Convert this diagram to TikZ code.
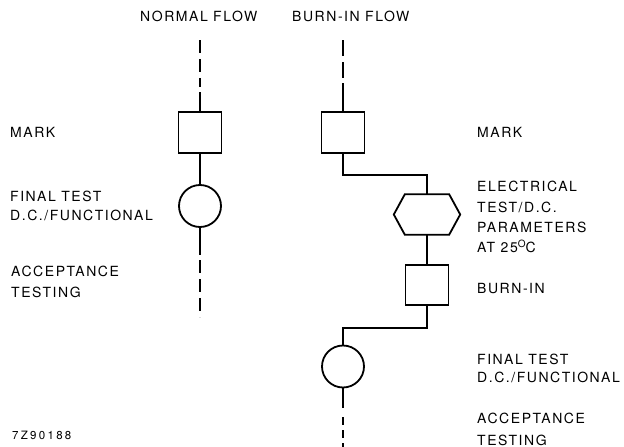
\documentclass[tikz,border=0pt]{standalone}
\usepackage{fontspec}
\setmainfont[LetterSpace=11]{TeX Gyre Heros}
\usetikzlibrary{calc}
\begin{document}
\begin{tikzpicture}[x=1pt,y=1pt,
  lbl/.style={anchor=base west, font=\fontsize{14}{16}\selectfont, inner sep=0pt},
  sq/.style={draw, line width=1.8pt, minimum width=43pt, minimum height=41pt, inner sep=0pt},
  circ/.style={draw, circle, line width=1.8pt, minimum size=42pt, inner sep=0pt},
  hexbox/.style={minimum width=66pt, minimum height=40pt, inner sep=0pt},
  shp/.style={line width=1.8pt, line join=miter},
  ln/.style={line width=1.5pt},
  dsh/.style={line width=1.5pt, dash pattern=on 13pt off 6pt}]
\useasboundingbox (0,0) rectangle (624,-447);

% titles
\node[lbl] (tn) at (140,-21) {NORMAL FLOW};
\node[lbl] (tb) at (292,-21) {BURN-IN FLOW};

% normal flow
\coordinate (la) at (200,-40);
\coordinate (lb) at (200,-87);
\coordinate (lc) at (200,-92);
\node[sq] (m1) at (200,-132.5) {};
\node[circ] (c1) at (200,-206) {};
\coordinate (ld) at (200,-255);
\coordinate (le) at (200,-260);
\coordinate (lf) at (200,-317);
\draw[dsh] (la) -- (lb);
\draw[ln] (lc) -- (m1.north);
\draw[ln] (m1.south) -- (c1.north);
\draw[ln] (c1.south) -- (ld);
\draw[dsh] (le) -- (lf);

% burn-in flow
\coordinate (ra) at (343,-40);
\coordinate (rb) at (343,-78);
\coordinate (rc) at (343,-83);
\node[sq] (m2) at (343,-132.5) {};
\coordinate (j1) at (343,-175);
\node[hexbox] (hx) at (427,-214.5) {};
\draw[shp] ($(hx.north west)+(11,0)$) -- ($(hx.north east)+(-11,0)$) -- (hx.east)
  -- ($(hx.south east)+(-11,0)$) -- ($(hx.south west)+(11,0)$) -- (hx.west) -- cycle;
\node[sq, minimum height=40pt] (bi) at (427,-285) {};
\coordinate (j2) at (427,-328);
\node[circ] (c2) at (343,-366.5) {};
\coordinate (rd) at (343,-408);
\coordinate (re) at (343,-417);
\coordinate (rf) at (343,-447);
\draw[dsh, dash pattern=on 16pt off 6pt] (ra) -- (rb);
\draw[ln] (rc) -- (m2.north);
\draw[ln] (m2.south) -- (j1) -| (hx.north);
\draw[ln] (hx.south) -- (bi.north);
\draw[ln] (bi.south) -- (j2) -| (c2.north);
\draw[ln] (c2.south) -- (rd);
\draw[dsh, dash pattern=on 8pt off 5pt] (re) -- (rf);

% left labels
\node[lbl] (l1) at (10,-137.5) {MARK};
\node[lbl] (l2) at (10,-201) {FINAL TEST};
\node[lbl] (l3) at (10,-220.5) {D.C./FUNCTIONAL};
\node[lbl] (l4) at (11,-276) {ACCEPTANCE};
\node[lbl] (l5) at (11,-297) {TESTING};

% right labels
\node[lbl] (r1) at (477,-137) {MARK};
\node[lbl] (r2) at (477,-191) {ELECTRICAL};
\node[lbl] (r3) at (477,-212) {TEST/D.C.};
\node[lbl] (r4) at (477,-232) {PARAMETERS};
\node[lbl] (r5) at (477,-252) {AT 25\raisebox{5pt}{\fontsize{10}{10}\selectfont O}C};
\node[lbl] (r6) at (477,-293) {BURN-IN};
\node[lbl] (r7) at (477,-364) {FINAL TEST};
\node[lbl] (r8) at (477,-382) {D.C./FUNCTIONAL};
\node[lbl] (r9) at (477,-423) {ACCEPTANCE};
\node[lbl] (r10) at (477,-445) {TESTING};

% figure code
\node[lbl, font=\fontsize{11.5}{13}\selectfont\addfontfeature{LetterSpace=20}] (fc) at (12,-439) {7Z90188};
\end{tikzpicture}
\end{document}
